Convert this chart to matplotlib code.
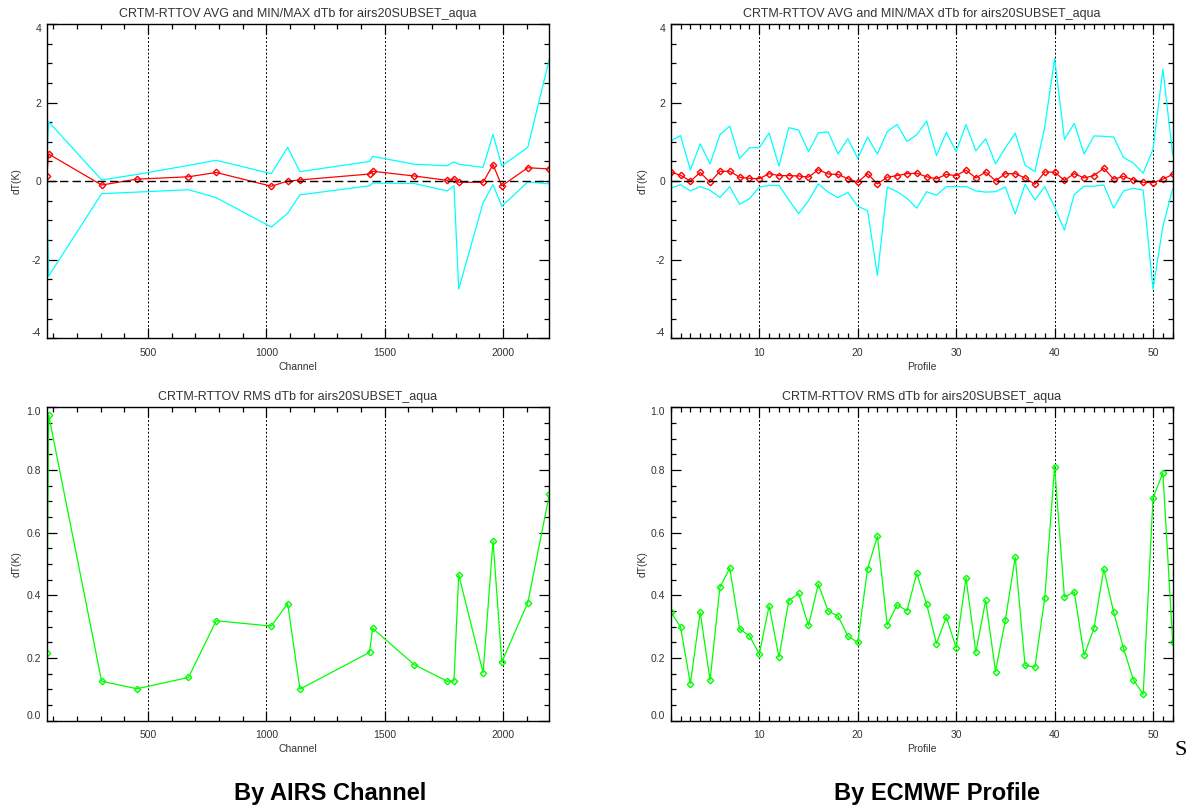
import numpy as np
import matplotlib
matplotlib.use('Agg')
import matplotlib.pyplot as plt
from matplotlib.ticker import MultipleLocator

plt.rcParams['font.family'] = ['Liberation Sans', 'DejaVu Sans']
plt.rcParams['axes.unicode_minus'] = False

# canais do subconjunto airs20SUBSET_aqua
channel = [72, 80, 304, 453, 671, 788, 1021, 1090, 1142, 1436,
           1449, 1625, 1764, 1793, 1813, 1916, 1958, 1995, 2105, 2196]
ch_avg = [0.13, 0.69, -0.10, 0.05, 0.11, 0.22, -0.13, 0.00, 0.03, 0.18,
          0.25, 0.13, 0.02, 0.06, -0.03, -0.03, 0.42, -0.12, 0.34, 0.31]
ch_max = [0.50, 1.51, 0.03, 0.17, 0.40, 0.53, 0.19, 0.86, 0.24, 0.50,
          0.63, 0.43, 0.39, 0.49, 0.43, 0.35, 1.19, 0.39, 0.86, 3.11]
ch_min = [-0.10, -2.42, -0.32, -0.28, -0.22, -0.42, -1.17, -0.82, -0.35, -0.12,
          -0.05, -0.06, -0.25, -0.12, -2.75, -0.55, -0.09, -0.64, -0.02, -0.07]
ch_rms = [0.216, 0.976, 0.126, 0.102, 0.138, 0.319, 0.302, 0.374, 0.101, 0.218,
          0.295, 0.179, 0.126, 0.127, 0.466, 0.153, 0.574, 0.187, 0.377, 0.722]

# perfis ECMWF
profile = list(range(1, 53))
pr_avg = [0.23, 0.15, 0.00, 0.22, -0.03, 0.25, 0.25, 0.10, 0.07, 0.06,
          0.19, 0.14, 0.14, 0.13, 0.10, 0.29, 0.18, 0.17, 0.06, -0.03,
          0.19, -0.07, 0.10, 0.14, 0.19, 0.20, 0.11, 0.06, 0.17, 0.14,
          0.28, 0.08, 0.23, 0.01, 0.19, 0.19, 0.08, -0.08, 0.23, 0.23,
          0.02, 0.19, 0.08, 0.14, 0.33, 0.05, 0.12, 0.03, -0.03, -0.04,
          0.05, 0.17]
pr_max = [1.02, 1.16, 0.28, 0.95, 0.44, 1.18, 1.40, 0.57, 0.85, 0.85,
          1.22, 0.38, 1.36, 1.30, 0.75, 1.23, 1.25, 0.69, 1.08, 0.58,
          1.12, 0.69, 1.26, 1.44, 1.01, 1.18, 1.53, 0.65, 1.24, 0.75,
          1.44, 0.77, 1.08, 0.44, 0.85, 1.22, 0.41, 0.24, 1.37, 3.12,
          1.06, 1.47, 0.69, 1.15, 1.14, 1.12, 0.60, 0.46, 0.20, 0.81,
          2.85, 0.67]
pr_min = [-0.18, -0.09, -0.25, -0.14, -0.23, -0.42, -0.14, -0.59, -0.45, -0.15,
          -0.11, -0.11, -0.48, -0.83, -0.50, -0.07, -0.28, -0.42, -0.29, -0.64,
          -0.75, -2.40, -0.15, -0.27, -0.44, -0.69, -0.27, -0.36, -0.14, -0.14,
          -0.14, -0.25, -0.28, -0.27, -0.15, -0.84, -0.08, -0.48, -0.14, -0.66,
          -1.25, -0.34, -0.13, -0.13, -0.10, -0.69, -0.25, -0.18, -0.23, -2.75,
          -1.16, -0.19]
pr_rms = [0.348, 0.299, 0.118, 0.346, 0.129, 0.426, 0.487, 0.293, 0.271, 0.213,
          0.367, 0.203, 0.383, 0.406, 0.304, 0.436, 0.350, 0.334, 0.270, 0.250,
          0.485, 0.589, 0.306, 0.370, 0.351, 0.470, 0.372, 0.246, 0.331, 0.233,
          0.456, 0.219, 0.384, 0.157, 0.322, 0.522, 0.177, 0.171, 0.391, 0.811,
          0.395, 0.411, 0.209, 0.295, 0.484, 0.346, 0.231, 0.131, 0.084, 0.711,
          0.791, 0.251]

title_avg = 'CRTM-RTTOV AVG and MIN/MAX dTb for airs20SUBSET_aqua'
title_rms = 'CRTM-RTTOV RMS dTb for airs20SUBSET_aqua'
txt = '#333333'

fig = plt.figure(figsize=(11.86, 8.06), dpi=100)
ax1 = fig.add_axes([0.0394, 0.5803, 0.4238, 0.3900])
ax2 = fig.add_axes([0.5655, 0.5803, 0.4233, 0.3900])
ax3 = fig.add_axes([0.0394, 0.1058, 0.4238, 0.3888])
ax4 = fig.add_axes([0.5655, 0.1058, 0.4233, 0.3888])


def estilo(ax, x, xticks, xminor, yticks, yminor, xlabel, title, ylab_x):
    ax.set_xlim(x[0], x[-1])
    ax.set_ylim(yticks[0], yticks[-1])
    ax.set_xticks(xticks)
    ax.set_yticks(yticks)
    ax.xaxis.set_minor_locator(MultipleLocator(xminor))
    ax.yaxis.set_minor_locator(MultipleLocator(yminor))
    ax.tick_params(which='both', direction='in', top=True, right=True,
                   color='k', labelcolor=txt, labelsize=7.5, width=0.9)
    ax.tick_params(which='major', length=7.2)
    ax.tick_params(which='minor', length=3.4)
    ax.tick_params(axis='x', pad=7)
    ax.tick_params(axis='y', pad=4)
    for s in ax.spines.values():
        s.set_linewidth(1.0)
        s.set_zorder(5)
    # linhas verticais pontilhadas nos ticks principais
    for xv in xticks:
        ax.axvline(xv, color='k', lw=0.7, ls=(0, (2, 2)), zorder=1)
    ax.set_xlabel(xlabel, fontsize=7.5, color=txt)
    ax.xaxis.set_label_coords(0.5, -0.075)
    ax.set_ylabel('dT(K)', fontsize=7.5, color=txt)
    ax.yaxis.set_label_coords(ylab_x, 0.5)
    ax.set_title(title, fontsize=9, color=txt, pad=5)
    # rotulos extremos deslocados para dentro (estilo IDL)
    ticks = ax.yaxis.get_major_ticks()
    ticks[0].label1.set_va('bottom')
    ticks[-1].label1.set_va('top')


# AVG e MIN/MAX por canal
ax1.plot(channel, ch_max, color='#00ffff', lw=0.9)
ax1.plot(channel, ch_min, color='#00ffff', lw=0.9)
ax1.plot(channel, ch_avg, color='#ff0000', lw=0.9, marker='D', ms=3.3,
         mfc='none', mec='#ff0000', mew=1.0)
ax1.axhline(0, color='k', lw=1.0, ls=(0, (6, 3)))
estilo(ax1, channel, [500, 1000, 1500, 2000], 100, [-4, -2, 0, 2, 4], 0.5,
       'Channel', title_avg, -0.05)

# AVG e MIN/MAX por perfil
ax2.plot(profile, pr_max, color='#00ffff', lw=0.9)
ax2.plot(profile, pr_min, color='#00ffff', lw=0.9)
ax2.plot(profile, pr_avg, color='#ff0000', lw=0.9, marker='D', ms=3.3,
         mfc='none', mec='#ff0000', mew=1.0)
ax2.axhline(0, color='k', lw=1.0, ls=(0, (6, 3)))
estilo(ax2, profile, [10, 20, 30, 40, 50], 1, [-4, -2, 0, 2, 4], 0.5,
       'Profile', title_avg, -0.045)

# RMS por canal
ax3.plot(channel, ch_rms, color='#00ff00', lw=0.9, marker='D', ms=3.3,
         mfc='none', mec='#00ff00', mew=1.0)
estilo(ax3, channel, [500, 1000, 1500, 2000], 100,
       [0.0, 0.2, 0.4, 0.6, 0.8, 1.0], 0.05, 'Channel', title_rms, -0.05)
ax3.set_yticklabels(['0.0', '0.2', '0.4', '0.6', '0.8', '1.0'])

# RMS por perfil
ax4.plot(profile, pr_rms, color='#00ff00', lw=0.9, marker='D', ms=3.3,
         mfc='none', mec='#00ff00', mew=1.0)
estilo(ax4, profile, [10, 20, 30, 40, 50], 1,
       [0.0, 0.2, 0.4, 0.6, 0.8, 1.0], 0.05, 'Profile', title_rms, -0.045)
ax4.set_yticklabels(['0.0', '0.2', '0.4', '0.6', '0.8', '1.0'])

fig.text(330.5 / 1186, 1 - 800 / 806, 'By AIRS Channel', fontsize=17,
         fontweight='bold', ha='center', va='baseline', color='k')
fig.text(936.5 / 1186, 1 - 800 / 806, 'By ECMWF Profile', fontsize=17,
         fontweight='bold', ha='center', va='baseline', color='k')
fig.text(1174 / 1186, 1 - 755 / 806, 'S', fontsize=16, family='Liberation Serif',
         ha='left', va='baseline', color='k')

fig.savefig('out.png', dpi=100)
